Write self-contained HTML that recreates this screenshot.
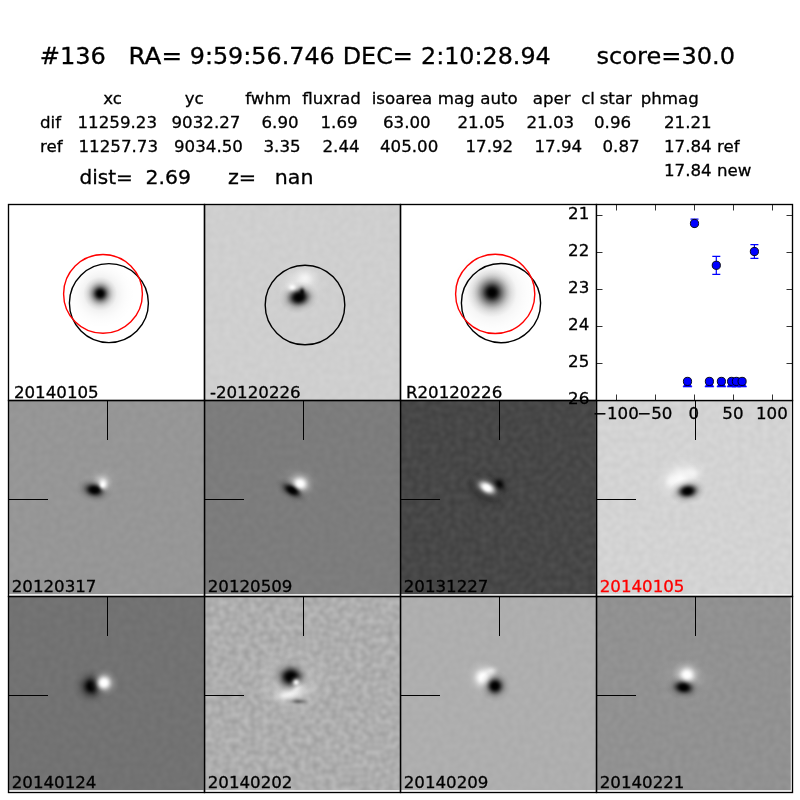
<!DOCTYPE html>
<html><head><meta charset="utf-8"><title>candidate 136</title>
<style>
html,body{margin:0;padding:0;background:#fff}
svg{display:block}
text{font-family:"DejaVu Sans","Liberation Sans",sans-serif;fill:#000;white-space:pre;stroke:#000;stroke-width:.3px}
.t12{font-size:16.67px}.t14{font-size:19.44px}.t17{font-size:23.61px}
.fr{fill:none;stroke:#000;stroke-width:1.35}
.tk{stroke:#000;stroke-width:1;shape-rendering:crispEdges}
</style></head><body>
<svg width="800" height="800" viewBox="0 0 800 800">
<defs>
<radialGradient id="gk"><stop offset="0" stop-color="#000" stop-opacity="1.000"/><stop offset="0.1" stop-color="#000" stop-opacity="0.956"/><stop offset="0.2" stop-color="#000" stop-opacity="0.835"/><stop offset="0.3" stop-color="#000" stop-opacity="0.667"/><stop offset="0.4" stop-color="#000" stop-opacity="0.487"/><stop offset="0.5" stop-color="#000" stop-opacity="0.325"/><stop offset="0.6" stop-color="#000" stop-opacity="0.198"/><stop offset="0.7" stop-color="#000" stop-opacity="0.110"/><stop offset="0.8" stop-color="#000" stop-opacity="0.056"/><stop offset="0.9" stop-color="#000" stop-opacity="0.026"/><stop offset="1" stop-color="#000" stop-opacity="0.000"/></radialGradient>
<radialGradient id="gw"><stop offset="0" stop-color="#fff" stop-opacity="1.000"/><stop offset="0.1" stop-color="#fff" stop-opacity="0.956"/><stop offset="0.2" stop-color="#fff" stop-opacity="0.835"/><stop offset="0.3" stop-color="#fff" stop-opacity="0.667"/><stop offset="0.4" stop-color="#fff" stop-opacity="0.487"/><stop offset="0.5" stop-color="#fff" stop-opacity="0.325"/><stop offset="0.6" stop-color="#fff" stop-opacity="0.198"/><stop offset="0.7" stop-color="#fff" stop-opacity="0.110"/><stop offset="0.8" stop-color="#fff" stop-opacity="0.056"/><stop offset="0.9" stop-color="#fff" stop-opacity="0.026"/><stop offset="1" stop-color="#fff" stop-opacity="0.000"/></radialGradient>
</defs>
<g opacity="0.999">
<rect width="800" height="800" fill="#fff"/>
<text xml:space="preserve" x="39.7" y="64" class="t17" textLength="66.2" lengthAdjust="spacingAndGlyphs">#136</text>
<text xml:space="preserve" x="128.5" y="64" class="t17" textLength="53.5" lengthAdjust="spacingAndGlyphs">RA=</text>
<text xml:space="preserve" x="189.75" y="64" class="t17" textLength="145" lengthAdjust="spacingAndGlyphs">9:59:56.746</text>
<text xml:space="preserve" x="342.7" y="64" class="t17" textLength="70.2" lengthAdjust="spacingAndGlyphs">DEC=</text>
<text xml:space="preserve" x="421" y="64" class="t17" textLength="129.7" lengthAdjust="spacingAndGlyphs">2:10:28.94</text>
<text xml:space="preserve" x="596.5" y="64" class="t17" textLength="138.5" lengthAdjust="spacingAndGlyphs">score=30.0</text>
<text xml:space="preserve" x="103.2" y="104" class="t12">xc</text>
<text xml:space="preserve" x="184.7" y="104" class="t12">yc</text>
<text xml:space="preserve" x="245.2" y="104" class="t12">fwhm</text>
<text xml:space="preserve" x="302.2" y="104" class="t12">fluxrad</text>
<text xml:space="preserve" x="371.7" y="104" class="t12">isoarea</text>
<text xml:space="preserve" x="437.7" y="104" class="t12">mag</text>
<text xml:space="preserve" x="480.2" y="104" class="t12">auto</text>
<text xml:space="preserve" x="532.7" y="104" class="t12">aper</text>
<text xml:space="preserve" x="581.2" y="104" class="t12">cl</text>
<text xml:space="preserve" x="599.7" y="104" class="t12">star</text>
<text xml:space="preserve" x="640.7" y="104" class="t12">phmag</text>
<text xml:space="preserve" x="40" y="128" class="t12">dif</text>
<text xml:space="preserve" x="77.5" y="128" class="t12">11259.23</text>
<text xml:space="preserve" x="171.5" y="128" class="t12">9032.27</text>
<text xml:space="preserve" x="261.5" y="128" class="t12">6.90</text>
<text xml:space="preserve" x="320.5" y="128" class="t12">1.69</text>
<text xml:space="preserve" x="383" y="128" class="t12">63.00</text>
<text xml:space="preserve" x="457.5" y="128" class="t12">21.05</text>
<text xml:space="preserve" x="526.5" y="128" class="t12">21.03</text>
<text xml:space="preserve" x="594" y="128" class="t12">0.96</text>
<text xml:space="preserve" x="664" y="128" class="t12">21.21</text>
<text xml:space="preserve" x="40" y="152" class="t12">ref</text>
<text xml:space="preserve" x="78.5" y="152" class="t12">11257.73</text>
<text xml:space="preserve" x="174" y="152" class="t12">9034.50</text>
<text xml:space="preserve" x="263.5" y="152" class="t12">3.35</text>
<text xml:space="preserve" x="322.5" y="152" class="t12">2.44</text>
<text xml:space="preserve" x="380" y="152" class="t12">405.00</text>
<text xml:space="preserve" x="465.5" y="152" class="t12">17.92</text>
<text xml:space="preserve" x="534.5" y="152" class="t12">17.94</text>
<text xml:space="preserve" x="602.5" y="152" class="t12">0.87</text>
<text xml:space="preserve" x="664" y="152" class="t12">17.84 ref</text>
<text xml:space="preserve" x="664" y="176" class="t12">17.84 new</text>
<text xml:space="preserve" x="79.5" y="184" class="t14" textLength="53.4" lengthAdjust="spacingAndGlyphs">dist=</text>
<text xml:space="preserve" x="145.5" y="184" class="t14" textLength="45.4" lengthAdjust="spacingAndGlyphs">2.69</text>
<text xml:space="preserve" x="228" y="184" class="t14" textLength="28.2" lengthAdjust="spacingAndGlyphs">z=</text>
<text xml:space="preserve" x="274.8" y="184" class="t14" textLength="38.6" lengthAdjust="spacingAndGlyphs">nan</text>
<g>
<rect x="8" y="204" width="196" height="196" fill="#ffffff"/>
<ellipse cx="100.5" cy="294" rx="34" ry="34" fill="url(#gk)" opacity="0.16"/>
<ellipse cx="100.2" cy="293.6" rx="17" ry="17" fill="url(#gk)" opacity="1"/>
<ellipse cx="100.2" cy="293.6" rx="7.5" ry="7.5" fill="url(#gk)" opacity="1"/>
<text xml:space="preserve" x="13.9" y="397.6" class="t12">20140105</text>
</g>
<circle cx="108.9" cy="303.1" r="39.5" fill="none" stroke="#000" stroke-width="1.4"/>
<circle cx="103" cy="293.9" r="39.4" fill="none" stroke="#f00" stroke-width="1.4"/>
<g>
<filter id="n10" x="0" y="0" width="1" height="1" color-interpolation-filters="sRGB"><feTurbulence type="fractalNoise" baseFrequency="0.16" numOctaves="1" seed="4"/><feColorMatrix type="matrix" values="0.040 0 0 0 0.7918  0.040 0 0 0 0.7918  0.040 0 0 0 0.7918  0 0 0 0 1"/></filter>
<rect x="204" y="204" width="196" height="196" fill="#cfcfcf" filter="url(#n10)"/>
<ellipse cx="300" cy="284" rx="32" ry="26" fill="url(#gw)" opacity="0.4"/>
<ellipse cx="305" cy="278" rx="16" ry="13" fill="url(#gw)" opacity="0.7"/>
<ellipse cx="298.8" cy="297.3" rx="20" ry="16" fill="url(#gk)" opacity="1" transform="rotate(-10 298.8 297.3)"/>
<ellipse cx="299" cy="297.3" rx="13" ry="10" fill="url(#gk)" opacity="1" transform="rotate(-10 299 297.3)"/>
<ellipse cx="302" cy="292" rx="5" ry="8" fill="url(#gk)" opacity="0.8"/>
<ellipse cx="292.3" cy="287.2" rx="9" ry="7" fill="url(#gw)" opacity="0.95"/>
<text xml:space="preserve" x="209.9" y="397.6" class="t12">-20120226</text>
</g>
<circle cx="305" cy="305" r="39.8" fill="none" stroke="#000" stroke-width="1.4"/>
<g>
<rect x="400" y="204" width="196" height="196" fill="#ffffff"/>
<ellipse cx="492" cy="293" rx="44" ry="44" fill="url(#gk)" opacity="0.16"/>
<ellipse cx="492" cy="292.5" rx="25" ry="25" fill="url(#gk)" opacity="1"/>
<ellipse cx="492" cy="292.5" rx="9.5" ry="9.5" fill="url(#gk)" opacity="1"/>
<text xml:space="preserve" x="405.9" y="397.6" class="t12">R20120226</text>
</g>
<circle cx="501" cy="303.1" r="39.6" fill="none" stroke="#000" stroke-width="1.4"/>
<circle cx="495.2" cy="293.9" r="39.6" fill="none" stroke="#f00" stroke-width="1.4"/>
<g>
<filter id="n01" x="0" y="0" width="1" height="1" color-interpolation-filters="sRGB"><feTurbulence type="fractalNoise" baseFrequency="0.16" numOctaves="1" seed="2"/><feColorMatrix type="matrix" values="0.040 0 0 0 0.5683  0.040 0 0 0 0.5683  0.040 0 0 0 0.5683  0 0 0 0 1"/></filter>
<rect x="8" y="400" width="196" height="196" fill="#969696" filter="url(#n01)"/>
<ellipse cx="100" cy="481" rx="22" ry="14" fill="url(#gw)" opacity="0.25" transform="rotate(-20 100 481)"/>
<ellipse cx="102.6" cy="485" rx="11" ry="13" fill="url(#gw)" opacity="1"/>
<ellipse cx="94.5" cy="489.9" rx="19" ry="13" fill="url(#gk)" opacity="1" transform="rotate(10 94.5 489.9)"/>
<ellipse cx="94.3" cy="490" rx="11" ry="7" fill="url(#gk)" opacity="1" transform="rotate(10 94.3 490)"/>
<ellipse cx="102.8" cy="484.6" rx="6" ry="7.5" fill="url(#gw)" opacity="1"/>
<rect x="107" y="401" width="1" height="39" fill="#000"/>
<rect x="8" y="499" width="40" height="1" fill="#000"/>
<rect x="8" y="594.2" width="196" height="1.8" fill="#fff"/><rect x="203" y="400" width="1" height="194" fill="#fff" opacity=".2"/>
<text xml:space="preserve" x="11.7" y="591.8" class="t12">20120317</text>
</g>
<g>
<filter id="n11" x="0" y="0" width="1" height="1" color-interpolation-filters="sRGB"><feTurbulence type="fractalNoise" baseFrequency="0.16" numOctaves="1" seed="5"/><feColorMatrix type="matrix" values="0.040 0 0 0 0.4663  0.040 0 0 0 0.4663  0.040 0 0 0 0.4663  0 0 0 0 1"/></filter>
<rect x="204" y="400" width="196" height="196" fill="#7c7c7c" filter="url(#n11)"/>
<ellipse cx="298" cy="483" rx="24" ry="20" fill="url(#gw)" opacity="0.25"/>
<ellipse cx="299.8" cy="484.2" rx="15" ry="14" fill="url(#gw)" opacity="1"/>
<ellipse cx="292" cy="490.3" rx="19" ry="11" fill="url(#gk)" opacity="1" transform="rotate(30 292 490.3)"/>
<ellipse cx="292" cy="490.3" rx="12" ry="6" fill="url(#gk)" opacity="1" transform="rotate(30 292 490.3)"/>
<ellipse cx="300" cy="483.8" rx="9" ry="8" fill="url(#gw)" opacity="1"/>
<rect x="303" y="401" width="1" height="39" fill="#000"/>
<rect x="204" y="499" width="40" height="1" fill="#000"/>
<rect x="204" y="594.2" width="196" height="1.8" fill="#fff"/><rect x="399" y="400" width="1" height="194" fill="#fff" opacity=".2"/>
<text xml:space="preserve" x="207.7" y="591.8" class="t12">20120509</text>
</g>
<g>
<filter id="n21" x="0" y="0" width="1" height="1" color-interpolation-filters="sRGB"><feTurbulence type="fractalNoise" baseFrequency="0.16" numOctaves="1" seed="8"/><feColorMatrix type="matrix" values="0.090 0 0 0 0.2335  0.090 0 0 0 0.2335  0.090 0 0 0 0.2335  0 0 0 0 1"/></filter>
<rect x="400" y="400" width="196" height="196" fill="#474747" filter="url(#n21)"/>
<ellipse cx="486.5" cy="489.5" rx="28" ry="20" fill="url(#gk)" opacity="0.75" transform="rotate(30 486.5 489.5)"/>
<ellipse cx="498.5" cy="485" rx="12" ry="12" fill="url(#gk)" opacity="1"/>
<ellipse cx="487" cy="487.7" rx="19" ry="12" fill="url(#gw)" opacity="1" transform="rotate(30 487 487.7)"/>
<ellipse cx="487" cy="487.7" rx="11" ry="6.5" fill="url(#gw)" opacity="0.95" transform="rotate(30 487 487.7)"/>
<rect x="499" y="401" width="1" height="39" fill="#000"/>
<rect x="400" y="499" width="40" height="1" fill="#000"/>
<rect x="400" y="594.2" width="196" height="1.8" fill="#fff"/><rect x="595" y="400" width="1" height="194" fill="#fff" opacity=".2"/>
<text xml:space="preserve" x="403.7" y="591.8" class="t12">20131227</text>
</g>
<g>
<filter id="n31" x="0" y="0" width="1" height="1" color-interpolation-filters="sRGB"><feTurbulence type="fractalNoise" baseFrequency="0.16" numOctaves="1" seed="11"/><feColorMatrix type="matrix" values="0.060 0 0 0 0.7975  0.060 0 0 0 0.7975  0.060 0 0 0 0.7975  0 0 0 0 1"/></filter>
<rect x="596" y="400" width="196" height="196" fill="#d3d3d3" filter="url(#n31)"/>
<ellipse cx="680" cy="479" rx="30" ry="24" fill="url(#gw)" opacity="0.9" transform="rotate(-30 680 479)"/>
<ellipse cx="693" cy="473" rx="13" ry="11" fill="url(#gw)" opacity="0.6"/>
<ellipse cx="671" cy="481" rx="10" ry="10" fill="url(#gw)" opacity="0.5"/>
<ellipse cx="687.5" cy="491" rx="19" ry="13" fill="url(#gk)" opacity="1" transform="rotate(-8 687.5 491)"/>
<ellipse cx="687.7" cy="491.2" rx="12" ry="8" fill="url(#gk)" opacity="1" transform="rotate(-8 687.7 491.2)"/>
<rect x="695" y="401" width="1" height="39" fill="#000"/>
<rect x="596" y="499" width="40" height="1" fill="#000"/>
<rect x="596" y="594.2" width="196" height="1.8" fill="#fff"/><rect x="790.8" y="400" width="1.2" height="195" fill="#fff"/>
<text xml:space="preserve" x="599.7" y="591.8" class="t12" style="fill:#f00;stroke:#f00">20140105</text>
</g>
<g>
<filter id="n02" x="0" y="0" width="1" height="1" color-interpolation-filters="sRGB"><feTurbulence type="fractalNoise" baseFrequency="0.16" numOctaves="1" seed="3"/><feColorMatrix type="matrix" values="0.040 0 0 0 0.4271  0.040 0 0 0 0.4271  0.040 0 0 0 0.4271  0 0 0 0 1"/></filter>
<rect x="8" y="596" width="196" height="196" fill="#727272" filter="url(#n02)"/>
<ellipse cx="91.5" cy="686.3" rx="19" ry="19" fill="url(#gk)" opacity="1"/>
<ellipse cx="91.5" cy="686.3" rx="9" ry="9" fill="url(#gk)" opacity="1"/>
<ellipse cx="104" cy="682.8" rx="15" ry="15" fill="url(#gw)" opacity="1"/>
<ellipse cx="104" cy="682.8" rx="9" ry="9" fill="url(#gw)" opacity="1"/>
<rect x="107" y="597" width="1" height="39" fill="#000"/>
<rect x="8" y="695" width="40" height="1" fill="#000"/>
<rect x="8" y="790.2" width="196" height="1.8" fill="#fff"/><rect x="203" y="596" width="1" height="194" fill="#fff" opacity=".2"/>
<text xml:space="preserve" x="11.7" y="787.8" class="t12">20140124</text>
</g>
<g>
<filter id="n12" x="0" y="0" width="1" height="1" color-interpolation-filters="sRGB"><feTurbulence type="fractalNoise" baseFrequency="0.16" numOctaves="1" seed="6"/><feColorMatrix type="matrix" values="0.170 0 0 0 0.5936  0.170 0 0 0 0.5936  0.170 0 0 0 0.5936  0 0 0 0 1"/></filter>
<rect x="204" y="596" width="196" height="196" fill="#adadad" filter="url(#n12)"/>
<ellipse cx="292" cy="682" rx="40" ry="38" fill="url(#gw)" opacity="0.55"/>
<ellipse cx="290.5" cy="693.5" rx="26" ry="9" fill="url(#gw)" opacity="0.9" transform="rotate(-14 290.5 693.5)"/>
<ellipse cx="298.5" cy="701.5" rx="15" ry="5" fill="url(#gk)" opacity="0.4"/>
<ellipse cx="291" cy="677" rx="23" ry="20" fill="url(#gk)" opacity="1"/>
<ellipse cx="290.8" cy="676.5" rx="13" ry="11" fill="url(#gk)" opacity="1"/>
<ellipse cx="296.2" cy="682.5" rx="8" ry="8" fill="url(#gw)" opacity="0.9"/>
<ellipse cx="297" cy="689" rx="12" ry="6" fill="url(#gw)" opacity="0.6" transform="rotate(-30 297 689)"/>
<rect x="303" y="597" width="1" height="39" fill="#000"/>
<rect x="204" y="695" width="40" height="1" fill="#000"/>
<rect x="204" y="790.2" width="196" height="1.8" fill="#fff"/><rect x="399" y="596" width="1" height="194" fill="#fff" opacity=".2"/>
<text xml:space="preserve" x="207.7" y="787.8" class="t12">20140202</text>
</g>
<g>
<filter id="n22" x="0" y="0" width="1" height="1" color-interpolation-filters="sRGB"><feTurbulence type="fractalNoise" baseFrequency="0.16" numOctaves="1" seed="9"/><feColorMatrix type="matrix" values="0.040 0 0 0 0.6624  0.040 0 0 0 0.6624  0.040 0 0 0 0.6624  0 0 0 0 1"/></filter>
<rect x="400" y="596" width="196" height="196" fill="#aeaeae" filter="url(#n22)"/>
<ellipse cx="483.5" cy="677.5" rx="18" ry="18" fill="url(#gw)" opacity="1"/>
<ellipse cx="483" cy="677.5" rx="10" ry="10" fill="url(#gw)" opacity="1"/>
<ellipse cx="491" cy="671.5" rx="11" ry="9" fill="url(#gw)" opacity="0.6"/>
<ellipse cx="495" cy="686" rx="16" ry="16" fill="url(#gk)" opacity="1"/>
<ellipse cx="495" cy="686" rx="9" ry="9" fill="url(#gk)" opacity="1"/>
<rect x="499" y="597" width="1" height="39" fill="#000"/>
<rect x="400" y="695" width="40" height="1" fill="#000"/>
<rect x="400" y="790.2" width="196" height="1.8" fill="#fff"/><rect x="595" y="596" width="1" height="194" fill="#fff" opacity=".2"/>
<text xml:space="preserve" x="403.7" y="787.8" class="t12">20140209</text>
</g>
<g>
<filter id="n32" x="0" y="0" width="1" height="1" color-interpolation-filters="sRGB"><feTurbulence type="fractalNoise" baseFrequency="0.16" numOctaves="1" seed="12"/><feColorMatrix type="matrix" values="0.050 0 0 0 0.5437  0.050 0 0 0 0.5437  0.050 0 0 0 0.5437  0 0 0 0 1"/></filter>
<rect x="596" y="596" width="196" height="196" fill="#919191" filter="url(#n32)"/>
<ellipse cx="686" cy="679" rx="32" ry="28" fill="url(#gw)" opacity="0.2"/>
<ellipse cx="687" cy="675.3" rx="16" ry="16" fill="url(#gw)" opacity="1"/>
<ellipse cx="683.5" cy="687.3" rx="19" ry="13" fill="url(#gk)" opacity="1" transform="rotate(8 683.5 687.3)"/>
<ellipse cx="683.5" cy="687.5" rx="11" ry="7" fill="url(#gk)" opacity="1" transform="rotate(8 683.5 687.5)"/>
<ellipse cx="687" cy="675" rx="9" ry="9" fill="url(#gw)" opacity="1"/>
<rect x="695" y="597" width="1" height="39" fill="#000"/>
<rect x="596" y="695" width="40" height="1" fill="#000"/>
<rect x="596" y="790.2" width="196" height="1.8" fill="#fff"/><rect x="790.8" y="596" width="1.2" height="195" fill="#fff"/>
<text xml:space="preserve" x="599.7" y="787.8" class="t12">20140221</text>
</g>
<rect class="fr" x="8.5" y="204.5" width="196" height="196"/>
<rect class="fr" x="204.5" y="204.5" width="196" height="196"/>
<rect class="fr" x="400.5" y="204.5" width="196" height="196"/>
<rect class="fr" x="8.5" y="400.5" width="196" height="196"/>
<rect class="fr" x="204.5" y="400.5" width="196" height="196"/>
<rect class="fr" x="400.5" y="400.5" width="196" height="196"/>
<rect class="fr" x="596.5" y="400.5" width="196" height="196"/>
<rect class="fr" x="8.5" y="596.5" width="196" height="196"/>
<rect class="fr" x="204.5" y="596.5" width="196" height="196"/>
<rect class="fr" x="400.5" y="596.5" width="196" height="196"/>
<rect class="fr" x="596.5" y="596.5" width="196" height="196"/>
<g>
<rect x="597" y="205" width="195" height="195" fill="#fff"/>
<path d="M616.5 204.5v6M616.5 400.5v-6M655.5 204.5v6M655.5 400.5v-6M694.5 204.5v6M694.5 400.5v-6M733.5 204.5v6M733.5 400.5v-6M772.5 204.5v6M772.5 400.5v-6M596.5 215.5h6M792.5 215.5h-6M596.5 252.5h6M792.5 252.5h-6M596.5 289.5h6M792.5 289.5h-6M596.5 326.5h6M792.5 326.5h-6M596.5 363.5h6M792.5 363.5h-6" stroke="#000" stroke-width=".8" fill="none"/>
<path d="M694.5 219.1V227.9M690.5 219.1h8" stroke="#00f" stroke-width="1.2" fill="none"/>
<circle cx="694.5" cy="223.5" r="4.1" fill="#00f" stroke="#000" stroke-width=".9"/>
<path d="M716.3 256.3V274.3M712.3 256.3h8M712.3 274.3h8" stroke="#00f" stroke-width="1.2" fill="none"/>
<circle cx="716.3" cy="265.3" r="4.1" fill="#00f" stroke="#000" stroke-width=".9"/>
<path d="M754.4 244.6V258.4M750.4 244.6h8M750.4 258.4h8" stroke="#00f" stroke-width="1.2" fill="none"/>
<circle cx="754.4" cy="251.5" r="4.1" fill="#00f" stroke="#000" stroke-width=".9"/>
<path d="M683 387h9l-4.5 -8z" fill="#00f" stroke="#00f" stroke-width=".6"/>
<circle cx="687.5" cy="381.4" r="4.1" fill="#00f" stroke="#000" stroke-width=".9"/>
<path d="M704.9 387h9l-4.5 -8z" fill="#00f" stroke="#00f" stroke-width=".6"/>
<circle cx="709.4" cy="381.4" r="4.1" fill="#00f" stroke="#000" stroke-width=".9"/>
<path d="M716.9 387h9l-4.5 -8z" fill="#00f" stroke="#00f" stroke-width=".6"/>
<circle cx="721.4" cy="381.4" r="4.1" fill="#00f" stroke="#000" stroke-width=".9"/>
<path d="M727.1 387h9l-4.5 -8z" fill="#00f" stroke="#00f" stroke-width=".6"/>
<circle cx="731.6" cy="381.4" r="4.1" fill="#00f" stroke="#000" stroke-width=".9"/>
<path d="M731.9 387h9l-4.5 -8z" fill="#00f" stroke="#00f" stroke-width=".6"/>
<circle cx="736.4" cy="381.4" r="4.1" fill="#00f" stroke="#000" stroke-width=".9"/>
<path d="M737.6 387h9l-4.5 -8z" fill="#00f" stroke="#00f" stroke-width=".6"/>
<circle cx="742.1" cy="381.4" r="4.1" fill="#00f" stroke="#000" stroke-width=".9"/>
<rect class="fr" x="596.5" y="204.5" width="196" height="196"/>
<text xml:space="preserve" x="589.3" y="219.3" class="t12" text-anchor="end">21</text>
<text xml:space="preserve" x="589.3" y="256.3" class="t12" text-anchor="end">22</text>
<text xml:space="preserve" x="589.3" y="293.3" class="t12" text-anchor="end">23</text>
<text xml:space="preserve" x="589.3" y="330.3" class="t12" text-anchor="end">24</text>
<text xml:space="preserve" x="589.3" y="367.3" class="t12" text-anchor="end">25</text>
<text xml:space="preserve" x="589.3" y="404.3" class="t12" text-anchor="end">26</text>
<text xml:space="preserve" x="615.9" y="419" class="t12" text-anchor="middle">−100</text>
<text xml:space="preserve" x="654.9" y="419" class="t12" text-anchor="middle">−50</text>
<text xml:space="preserve" x="693.9" y="419" class="t12" text-anchor="middle">0</text>
<text xml:space="preserve" x="732.9" y="419" class="t12" text-anchor="middle">50</text>
<text xml:space="preserve" x="771.9" y="419" class="t12" text-anchor="middle">100</text>
</g>
</g>
</svg>
</body></html>
